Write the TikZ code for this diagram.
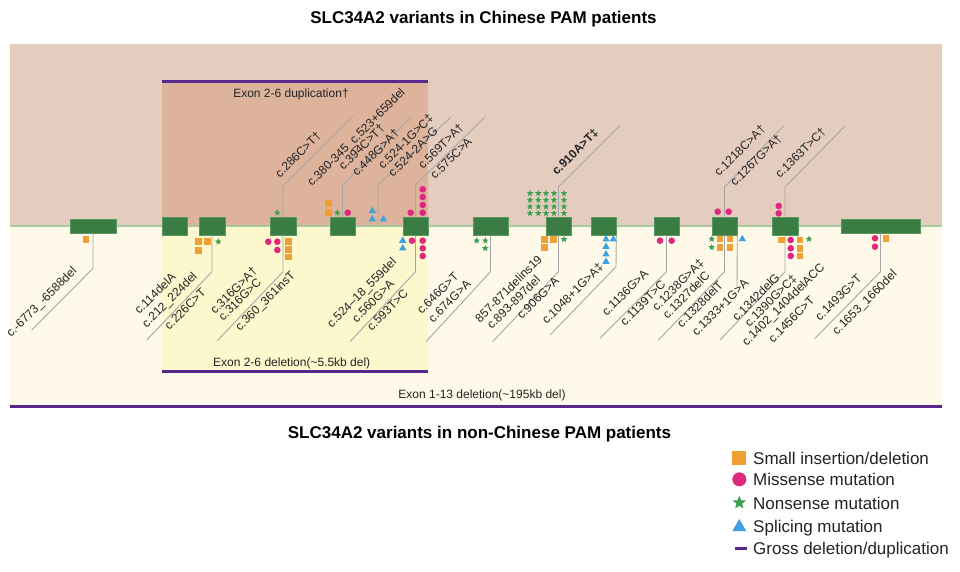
\documentclass[tikz,border=0pt]{standalone}
\usepackage{fontspec}
\setmainfont{Liberation Sans}
\usetikzlibrary{shapes.geometric}
\definecolor{upbg}{RGB}{228,204,190}
\definecolor{dupbg}{RGB}{221,179,156}
\definecolor{lowbg}{RGB}{254,249,233}
\definecolor{delbg}{RGB}{253,247,206}
\definecolor{bbc}{RGB}{168,200,158}
\definecolor{exonc}{RGB}{58,125,66}
\definecolor{exonb}{RGB}{90,150,95}
\definecolor{purp}{RGB}{88,40,140}
\definecolor{orc}{RGB}{240,160,50}
\definecolor{pkc}{RGB}{222,40,125}
\definecolor{stc}{RGB}{58,160,80}
\definecolor{blc}{RGB}{60,160,225}
\definecolor{leadc}{RGB}{165,165,168}
\definecolor{txt}{RGB}{35,35,35}
\begin{document}
\begin{tikzpicture}[x=1pt,y=-1pt,
  lab/.style={font=\fontsize{12}{14}\selectfont, rotate=45, anchor=base west, inner sep=0pt, text=txt},
  glab/.style={font=\fontsize{12}{14}\selectfont, anchor=base, inner sep=0pt, text=txt},
  legt/.style={font=\fontsize{17}{20}\selectfont, anchor=base west, inner sep=0pt, text=txt},
  ttl/.style={font=\bfseries\fontsize{17}{20}\selectfont, anchor=base, inner sep=0pt, text=black},
  exon/.style={rectangle, fill=exonc, draw=exonb, line width=0.6pt, inner sep=0pt, minimum height=18pt},
  lead/.style={draw=leadc, line width=0.9pt},
  sq/.style={rectangle, fill=orc, inner sep=0pt, minimum size=6.5pt},
  ci/.style={circle, fill=pkc, inner sep=0pt, minimum size=6.6pt},
  st/.style={star, star points=5, star point ratio=2.3, fill=stc, inner sep=0pt, minimum size=7pt},
  tr/.style={regular polygon, regular polygon sides=3, fill=blc, inner sep=0pt, minimum size=8.5pt},
  gross/.style={draw=purp, line width=3pt},
  bb/.style={draw=bbc, line width=2.8pt}]
\path[use as bounding box] (0,0) rectangle (960,571);
% backgrounds
\fill[upbg] (10,44) rectangle (942,226);
\fill[lowbg] (10,226) rectangle (942,405);
\fill[dupbg] (161.7,81) rectangle (428.3,226);
\fill[delbg] (161.7,226) rectangle (428.3,371.5);
% gross bars
\coordinate (dupL) at (161.7,81); \coordinate (dupR) at (428.3,81);
\coordinate (delL) at (161.7,371.5); \coordinate (delR) at (428.3,371.5);
\coordinate (allL) at (10,406); \coordinate (allR) at (942,406);
\draw[gross] (dupL) -- (dupR);
\draw[gross] (delL) -- (delR);
\draw[gross] (allL) -- (allR);
\node[glab] (dupT) at (291,97.5) {Exon 2-6 duplication†};
\node[glab] (delT) at (291.7,366.5) {Exon 2-6 deletion(\textasciitilde5.5kb del)};
\node[glab] (allT) at (482,398.5) {Exon 1-13 deletion(\textasciitilde195kb del)};
% backbone
\coordinate (bbL) at (10,226); \coordinate (bbR) at (942,226);
\draw[bb] (bbL) -- (bbR);
% exons
\node[exon, minimum width=46pt, minimum height=14pt] (e1) at (93,226) {};
\node[exon, minimum width=25pt] (e2) at (174.5,226) {};
\node[exon, minimum width=26pt] (e3) at (212,226) {};
\node[exon, minimum width=26pt] (e4) at (283,226) {};
\node[exon, minimum width=25pt] (e5) at (342.5,226) {};
\node[exon, minimum width=25pt] (e6) at (415.5,226) {};
\node[exon, minimum width=35pt] (e7) at (490.5,226) {};
\node[exon, minimum width=25pt] (e8) at (558.5,226) {};
\node[exon, minimum width=25pt] (e9) at (603.5,226) {};
\node[exon, minimum width=25pt] (e10) at (666.5,226) {};
\node[exon, minimum width=25pt] (e11) at (724.5,226) {};
\node[exon, minimum width=26pt] (e12) at (785,226) {};
\node[exon, minimum width=79pt, minimum height=14pt] (e13) at (880.5,226) {};
% upper leaders
\coordinate (u1b) at (283,186);   \coordinate (u1t) at (353,116);
\coordinate (u2b) at (342.5,185); \coordinate (u2t) at (411,117);
\coordinate (u3s) at (378,224.6); \coordinate (u3b) at (378,185); \coordinate (u3t) at (451,117);
\coordinate (u4b) at (415.5,185); \coordinate (u4t) at (485,117);
\coordinate (u5b) at (558.5,187); \coordinate (u5t) at (619.5,126);
\coordinate (u6b) at (724.5,187); \coordinate (u6t) at (783.5,126);
\coordinate (u7b) at (785,187);   \coordinate (u7t) at (845,126);
\draw[lead] (e4.north) -- (u1b) -- (u1t);
\draw[lead] (e5.north) -- (u2b) -- (u2t);
\draw[lead] (u3s) -- (u3b) -- (u3t);
\draw[lead] (e6.north) -- (u4b) -- (u4t);
\draw[lead] (e8.north) -- (u5b) -- (u5t);
\draw[lead] (e11.north) -- (u6b) -- (u6t);
\draw[lead] (e12.north) -- (u7b) -- (u7t);
% lower leaders
\coordinate (l1b) at (93,268.3);    \coordinate (l1t) at (31.7,330);
\coordinate (l3b) at (212,271.7);   \coordinate (l3t) at (146.7,340);
\coordinate (l4b) at (283,271.7);   \coordinate (l4t) at (217.3,340.7);
\coordinate (l6b) at (415.5,271.7); \coordinate (l6t) at (350,341.7);
\coordinate (l7b) at (490.5,271.7); \coordinate (l7t) at (426,341.7);
\coordinate (l8b) at (558.5,271.7); \coordinate (l8t) at (492.7,341.7);
\coordinate (l9b) at (616,266.7);   \coordinate (l9t) at (550,335);
\coordinate (l10b) at (666.5,271.7); \coordinate (l10t) at (600,338.3);
\coordinate (l11b) at (724.5,271.7); \coordinate (l11t) at (658.3,340);
\coordinate (l11c) at (737,286.7);
\coordinate (l12b) at (785,271.7);  \coordinate (l12t) at (720,340);
\coordinate (l13b) at (880.5,271.7); \coordinate (l13t) at (815,338.3);
\draw[lead] (e1.south) -- (l1b) -- (l1t);
\draw[lead] (e3.south) -- (l3b) -- (l3t);
\draw[lead] (e4.south) -- (l4b) -- (l4t);
\draw[lead] (e6.south) -- (l6b) -- (l6t);
\draw[lead] (e7.south) -- (l7b) -- (l7t);
\draw[lead] (e8.south) -- (l8b) -- (l8t);
\draw[lead] (e9.south east) -- (l9b) -- (l9t);
\draw[lead] (e10.south) -- (l10b) -- (l10t);
\draw[lead] (e11.south) -- (l11b) -- (l11t);
\draw[lead] (e11.south east) -- (l11c);
\draw[lead] (e12.south) -- (l12b) -- (l12t);
\draw[lead] (e13.south) -- (l13b) -- (l13t);
% symbols: squares
\foreach \p [count=\i] in {{328.7,203.3},{328.7,212.7},{86,239.3},{198.3,241.7},{207.3,241.7},{198.3,250.5},
  {288.7,241.7},{288.7,249.3},{288.7,257},{544.3,239.3},{553.3,239.3},{544.3,247.7},
  {720,239},{720,247.3},{730,239},{730,247.3},{781.7,240},{800,240},{800,248.3},{800,256},{886,238.3}}
  \node[sq] (sq\i) at (\p) {};
% circles
\foreach \p [count=\i] in {{347.7,212.7},{410.7,212.7},{422.7,189.3},{422.7,197},{422.7,205},{422.7,212.7},
  {717.7,211.7},{728.7,211.7},{778.7,206},{778.7,213.3},
  {268.3,241.7},{277.3,241.7},{277.3,250},{412,240.7},{422.7,240.7},{422.7,248.3},{422.7,256},
  {660,240.7},{671.7,240.7},{790.7,240},{790.7,248.3},{790.7,256},{875,238.3},{875,246.7}}
  \node[ci] (ci\i) at (\p) {};
% stars
\foreach \p [count=\i] in {{277.3,212.7},{337.3,212.7},{218.3,241.7},{476.7,240.7},{485.3,240.7},{485.3,248.3},
  {564,239.3},{711.7,239},{711.7,247.3},{809,239}}
  \node[st] (st\i) at (\p) {};
\foreach \x [count=\i] in {530,538.3,546,554,564}
  \foreach \y [count=\j] in {193.3,200,206.7,213.3}
    \node[st, minimum size=6.8pt] (gs\i\j) at (\x,\y) {};
% triangles
\foreach \p [count=\i] in {{372.3,211},{372.3,219.3},{383.3,219.3},{402.7,240.7},{402.7,248.3},
  {606,239.3},{613.3,239.3},{606,246.7},{606,254.3},{606,261.7},{742.3,239}}
  \node[tr] (tr\i) at (\p) {};
% upper labels
\node[lab] (ul1) at (280,178.3) {c.286C>T†};
\node[lab] (ul2) at (312,187) {c.380-345\_c.523+659del};
\node[lab] (ul3) at (343.5,171) {c.394C>T†};
\node[lab] (ul4) at (357,177) {c.448G>A†};
\node[lab] (ul5) at (383,170) {c.524-1G>C‡};
\node[lab] (ul6) at (393,178) {c.524-2A>G};
\node[lab] (ul7) at (423,170) {c.569T>A†};
\node[lab] (ul8) at (435,180) {c.575C>A};
\node[lab, font=\bfseries\fontsize{12}{14}\selectfont] (ul9) at (556.7,176) {c.910A>T‡};
\node[lab] (ul10) at (719,177) {c.1218C>A†};
\node[lab] (ul11) at (735,187) {c.1267G>A†};
\node[lab] (ul12) at (780,179) {c.1363T>C†};
% lower labels
\node[lab] (ll1) at (11,338) {c.-6773\_-6588del};
\node[lab] (ll2) at (139.3,315) {c.114delA};
\node[lab] (ll3) at (146.7,328.3) {c.212\_224del};
\node[lab] (ll4) at (169.3,330.7) {c.226C>T};
\node[lab] (ll5) at (215,315) {c.316G>A†};
\node[lab] (ll6) at (223.3,321.7) {c.316G>C};
\node[lab] (ll7) at (240,331.7) {c.360\_361insT};
\node[lab] (ll8) at (331.7,328.3) {c.524–18\_559del};
\node[lab] (ll9) at (356.7,323.3) {c.560G>A};
\node[lab] (ll10) at (371.7,331.7) {c.593T>C};
\node[lab] (ll11) at (421.7,315) {c.646G>T};
\node[lab] (ll12) at (433.3,323.3) {c.674G>A};
\node[lab] (ll13) at (480,323.3) {857-871delins19};
\node[lab] (ll14) at (491.7,330) {c.893-897del};
\node[lab] (ll15) at (521.7,320) {c.906G>A};
\node[lab] (ll16) at (546.7,325) {c.1048+1G>A‡};
\node[lab] (ll17) at (606.7,316.7) {c.1136G>A};
\node[lab] (ll18) at (625,326.7) {c.1139T>C};
\node[lab] (ll19) at (657,311.5) {c.1238G>A‡};
\node[lab] (ll20) at (667.5,319.5) {c.1327delC};
\node[lab] (ll21) at (681.7,328.3) {c.1328delT};
\node[lab] (ll22) at (696.7,336.7) {c.1333+1G>A};
\node[lab] (ll23) at (737,322) {c.1342delG};
\node[lab] (ll24) at (749.5,327.5) {c.1390G>C‡};
\node[lab] (ll25) at (746.7,346.7) {c.1402\_1404delACC};
\node[lab] (ll26) at (773.3,343.3) {c.1456C>T};
\node[lab] (ll27) at (820,321.7) {c.1493G>T};
\node[lab] (ll28) at (837,335.5) {c.1653\_1660del};
% titles
\node[ttl] (t1) at (483.5,23.5) {SLC34A2 variants in Chinese PAM patients};
\node[ttl] (t2) at (479.5,438.5) {SLC34A2 variants in non-Chinese PAM patients};
% legend
\node[sq, minimum size=14pt] (k1) at (739.3,458.3) {};
\node[ci, minimum size=14pt] (k2) at (739.3,479.3) {};
\node[st, minimum size=14pt] (k3) at (739.3,502.7) {};
\node[tr, minimum size=16pt] (k4) at (739.3,527) {};
\coordinate (k5a) at (735,548.3); \coordinate (k5b) at (746.7,548.3);
\draw[gross] (k5a) -- (k5b);
\node[legt] (kt1) at (753,464.8) {Small insertion/deletion};
\node[legt] (kt2) at (753,485.8) {Missense mutation};
\node[legt] (kt3) at (753,509.2) {Nonsense mutation};
\node[legt] (kt4) at (753,532.5) {Splicing mutation};
\node[legt] (kt5) at (753,554.8) {Gross deletion/duplication};
\end{tikzpicture}
\end{document}
